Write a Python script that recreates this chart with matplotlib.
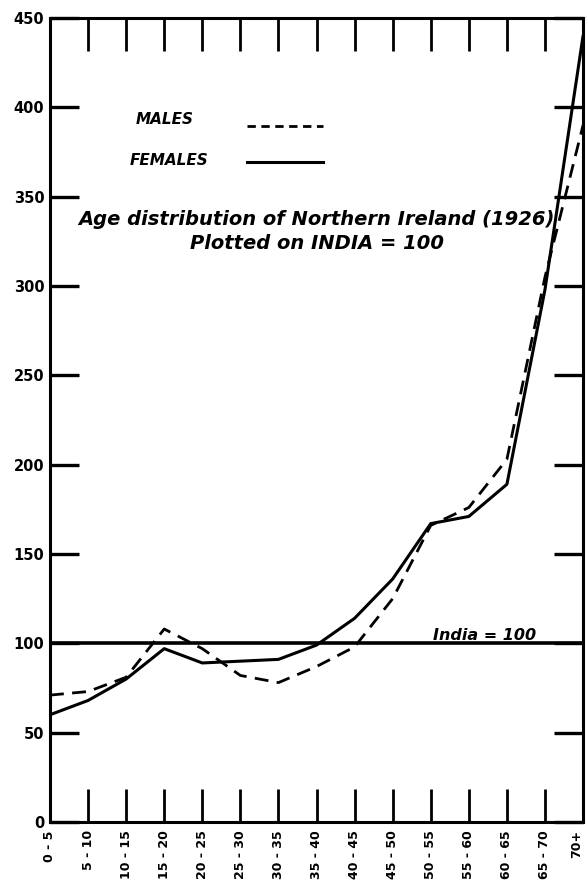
import matplotlib
matplotlib.use('Agg')
import matplotlib.pyplot as plt
from matplotlib.lines import Line2D
import numpy as np

age_groups = ['0 - 5', '5 - 10', '10 - 15', '15 - 20', '20 - 25', '25 - 30', '30 - 35',
              '35 - 40', '40 - 45', '45 - 50', '50 - 55', '55 - 60', '60 - 65', '65 - 70', '70+']
males = [71, 73, 81, 108, 97, 82, 78, 87, 98, 125, 166, 176, 203, 305, 390]
females = [60, 68, 80, 97, 89, 90, 91, 99, 114, 136, 167, 171, 189, 298, 440]
india_level = 100
y_ticks = [0, 50, 100, 150, 200, 250, 300, 350, 400, 450]

fig = plt.figure(figsize=(5.86, 8.89), dpi=100)
ax = fig.add_axes([0.0853, 0.0754, 0.9097, 0.9044])

x = np.arange(len(age_groups))
ax.axhline(india_level, color='black', lw=2.6)
ax.plot(x, females, color='black', lw=2.2, solid_capstyle='round')
ax.plot(x, males, color='black', lw=2.0, ls=(0, (5, 3)))

ax.set_xlim(0, len(age_groups) - 1)
ax.set_ylim(0, 450)

for s in ax.spines.values():
    s.set_linewidth(2.2)

# inner tick marks on all four sides
ax.set_yticks(y_ticks)
ax.set_yticklabels([str(v) for v in y_ticks], fontsize=10.5, fontweight='bold')
ax.tick_params(axis='y', direction='in', length=21, width=2.4, left=True, right=True, pad=4)
ax.set_xticks(x)
ax.set_xticklabels(age_groups, rotation=90, fontsize=9, fontweight='bold')
ax.tick_params(axis='x', direction='in', length=24, width=2.0, top=True, bottom=True, pad=6)
ax.get_xticklabels()[-1].set_horizontalalignment('right')

# legend: labels on the left, line samples on the right
lab_font = {'weight': 'bold', 'style': 'italic', 'size': 11}
ax.text(0.160, 0.874, 'MALES', transform=ax.transAxes, va='center', **lab_font)
ax.text(0.150, 0.823, 'FEMALES', transform=ax.transAxes, va='center', **lab_font)
handles = [Line2D([], [], color='black', lw=2.0, ls=(0, (3, 2))),
           Line2D([], [], color='black', lw=2.2)]
ax.legend(handles, ['', ''], loc='upper left', bbox_to_anchor=(0.355, 0.884),
          frameon=False, handlelength=5.0, handletextpad=0, borderpad=0,
          labelspacing=1.4, prop={'size': 11})

ax.text(0.5, 0.749, 'Age distribution of Northern Ireland (1926)', transform=ax.transAxes,
        ha='center', va='center', fontsize=14, fontweight='bold', style='italic')
ax.text(0.5, 0.720, 'Plotted on INDIA = 100', transform=ax.transAxes,
        ha='center', va='center', fontsize=14, fontweight='bold', style='italic')
ax.text(0.816, 0.232, 'India = 100', transform=ax.transAxes,
        ha='center', va='center', fontsize=11.5, fontweight='bold', style='italic')

fig.savefig('out.png', dpi=100)
